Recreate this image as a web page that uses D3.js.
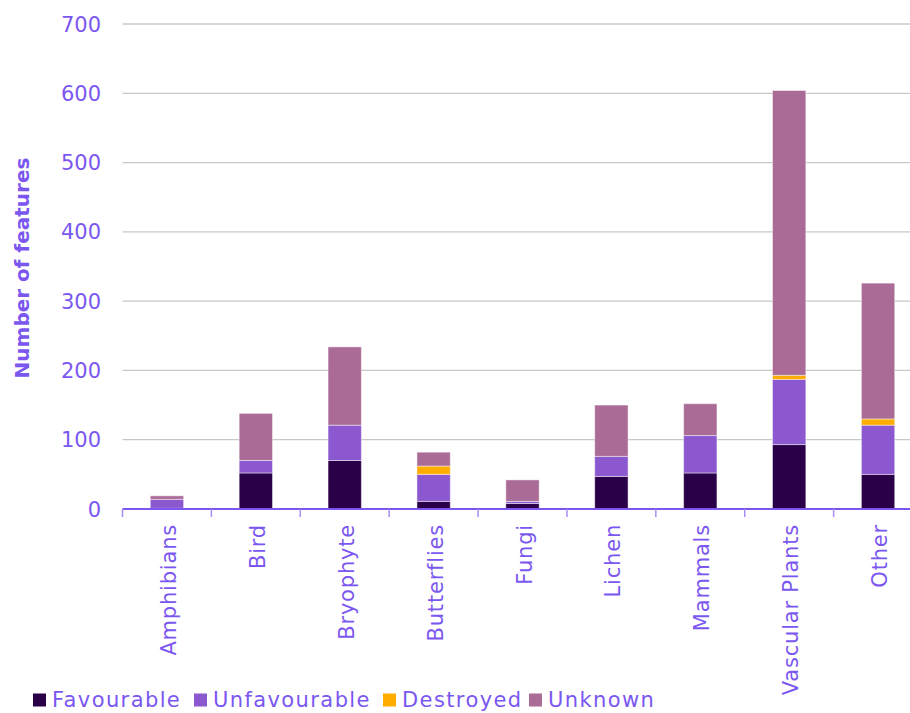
<!DOCTYPE html>
<html><head><meta charset="utf-8">
<script src="https://cdn.jsdelivr.net/npm/d3@7"></script>
<style>
html,body{margin:0;padding:0;background:#fff;}
svg{display:block;}
text{font-family:"DejaVu Sans","Open Sans",sans-serif;}
</style></head>
<body>
<svg id="chart" width="910" height="713"></svg>
<script>
const categories = ["Amphibians","Bird","Bryophyte","Butterflies","Fungi","Lichen","Mammals","Vascular Plants","Other"];
const seriesNames = ["Favourable","Unfavourable","Destroyed","Unknown"];
const favourable   = [1, 52, 70, 11, 8, 47, 52, 93, 50];
const unfavourable = [13, 18, 51, 39, 3, 29, 54, 94, 71];
const destroyed    = [0, 0, 0, 12, 0, 0, 0, 6, 9];
const unknown      = [5, 68, 113, 20, 31, 74, 46, 411, 196];
const yTicks = [0,100,200,300,400,500,600,700];
const colors = ["#2a0048","#8b58cf","#ffad00","#aa6b96"];
const textColor = "#7b57f0";

const svg = d3.select("#chart");
const margin = {left:122.5, right:-12.5, top:24, bottom:204};
const W = 910, H = 713;
const x0 = margin.left, x1 = W - margin.right;
const y0 = H - margin.bottom, y1 = margin.top;

const table = categories.map((c,i)=>({cat:c, Favourable:favourable[i], Unfavourable:unfavourable[i], Destroyed:destroyed[i], Unknown:unknown[i]}));
const stack = d3.stack().keys(seriesNames)(table);

const x = d3.scaleBand().domain(categories).range([x0,x1]).paddingInner(0).paddingOuter(0);
const y = d3.scaleLinear().domain([0,700]).range([y0,y1]);

// gridlines
svg.append("g").selectAll("line").data(yTicks.filter(t=>t>0)).join("line")
  .attr("x1",x0).attr("x2",W).attr("y1",d=>y(d)).attr("y2",d=>y(d))
  .attr("stroke","#c8c8c8").attr("stroke-width",1.3);

// y tick labels
svg.append("g").selectAll("text").data(yTicks).join("text")
  .attr("x",101).attr("y",d=>y(d)).attr("dy","0.36em")
  .attr("text-anchor","end").attr("fill",textColor)
  .attr("font-size",21).text(d=>d);

// bars
const bw = x.bandwidth()*0.375;
svg.append("g").selectAll("g").data(stack).join("g")
  .attr("fill",(d,i)=>colors[i])
  .selectAll("rect").data(d=>d.filter(s=>s[1]-s[0]>0)).join("rect")
  .attr("x",d=>x(d.data.cat)+x.bandwidth()/2-bw/2)
  .attr("width",bw)
  .attr("y",d=>y(d[1]))
  .attr("height",d=>y(d[0])-y(d[1]))
  .attr("stroke","rgba(255,255,255,0.45)").attr("stroke-width",1);

// x axis line
svg.append("line").attr("x1",x0).attr("x2",W).attr("y1",y0).attr("y2",y0)
  .attr("stroke",textColor).attr("stroke-width",2);
// category tick marks
const bounds = categories.map(c=>x(c)).concat([x1]);
svg.append("g").selectAll("line").data(bounds).join("line")
  .attr("x1",d=>d).attr("x2",d=>d).attr("y1",y0).attr("y2",y0+8)
  .attr("stroke","#a98cf5").attr("stroke-width",1.5);

// x labels
svg.append("g").selectAll("text").data(categories).join("text")
  .attr("transform",d=>`translate(${x(d)+x.bandwidth()/2+9},${y0+15}) rotate(-90)`)
  .attr("text-anchor","end").attr("fill",textColor).attr("font-size",21)
  .attr("letter-spacing","0.8px")
  .text(d=>d);

// y title
svg.append("text").attr("transform",`translate(29,268) rotate(-90)`)
  .attr("text-anchor","middle").attr("fill",textColor)
  .attr("font-size",20).attr("font-weight","bold").text("Number of features");

// legend
const legendX = [33,194,383,529];
const lg = svg.append("g").selectAll("g").data(seriesNames).join("g")
  .attr("transform",(d,i)=>`translate(${legendX[i]},700)`);
lg.append("rect").attr("x",0).attr("y",-6.5).attr("width",13).attr("height",13)
  .attr("fill",(d,i)=>colors[i]);
lg.append("text").attr("x",19).attr("y",0).attr("dy","0.35em")
  .attr("fill",textColor).attr("font-size",21).attr("letter-spacing","1.4px").text(d=>d);
</script>
</body></html>
